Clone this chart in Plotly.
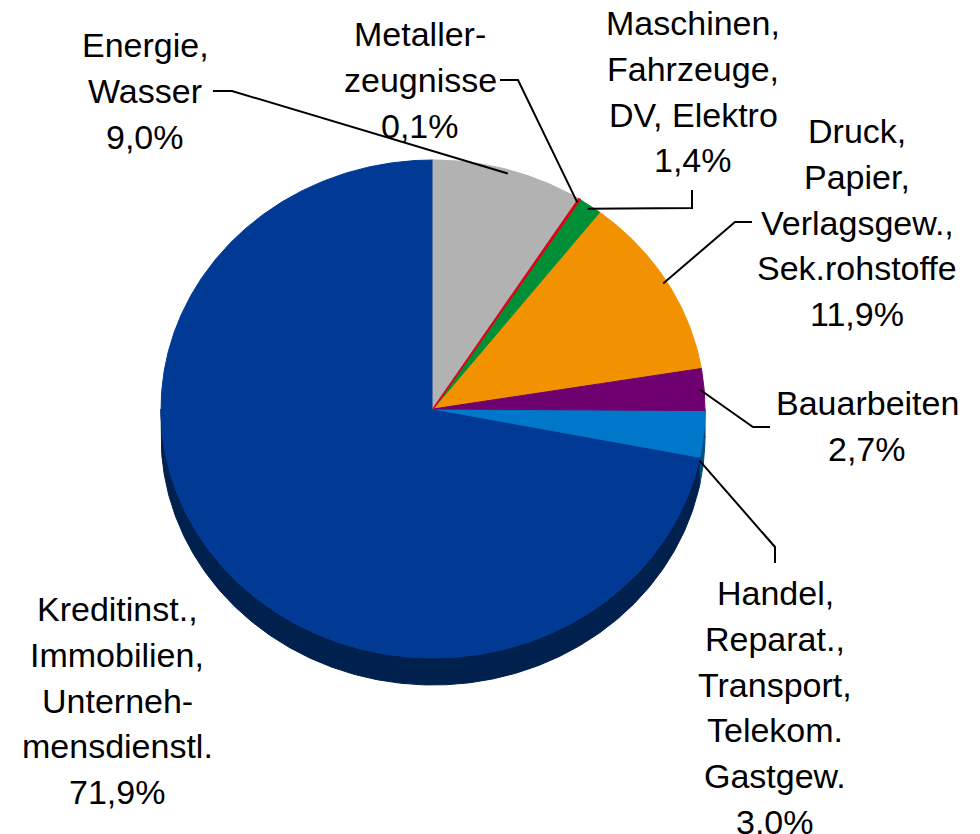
import numpy as np
import plotly.graph_objects as go

# Anteile nach Wirtschaftszweig (%), im Uhrzeigersinn ab 12 Uhr
sectors = [
    "Energie, Wasser",
    "Metallerzeugnisse",
    "Maschinen, Fahrzeuge, DV, Elektro",
    "Druck, Papier, Verlagsgew., Sek.rohstoffe",
    "Bauarbeiten",
    "Handel, Reparat., Transport, Telekom. Gastgew.",
    "Kreditinst., Immobilien, Unternehmensdienstl.",
]
shares = [9.0, 0.1, 1.4, 11.9, 2.7, 3.0, 71.9]
label_lines = [
    ["Energie,", "Wasser"],
    ["Metaller-", "zeugnisse"],
    ["Maschinen,", "Fahrzeuge,", "DV, Elektro"],
    ["Druck,", "Papier,", "Verlagsgew.,", "Sek.rohstoffe"],
    ["Bauarbeiten"],
    ["Handel,", "Reparat.,", "Transport,", "Telekom.", "Gastgew."],
    ["Kreditinst.,", "Immobilien,", "Unterneh-", "mensdienstl."],
]

colors = ["#b2b2b2", "#e2001a", "#008f36", "#f39200", "#6f006f", "#0077c8", "#003a94"]
side_colors = ["#6e6e6e", "#8a0010", "#005520", "#955900", "#420042", "#004c80", "#00204e"]

# pie geometry in pixels (tilted pie -> ellipse)
CX, CY, RX, RY, DEPTH = 433, 409, 272, 249, 27
PAGE_OFFSET = 8  # body margin of the html page

# label layout: centre x, first line y, leader bends (from pie outwards)
label_pos = [(145, 45), (420, 34), (693, 23), (857, 131), (867, 403), (775, 593), (117, 609)]
leader_bends = [
    [(232, 91), (213, 91)],
    [(518, 80), (500, 80)],
    [(692, 208), (692, 190)],
    [(735, 222), (752, 222)],
    [(753, 427), (770, 427)],
    [(775, 547), (775, 563)],
    None,
]
LINE_GAP = 45.8
FONT = dict(family="Liberation Sans, Arial, sans-serif", size=34, color="black")


def arc(a0, a1, dy=0.0):
    n = max(int(abs(a1 - a0) * 2) + 2, 2)
    t = np.radians(np.linspace(a0, a1, n))
    return CX + RX * np.sin(t), CY + dy - RY * np.cos(t)


edges = np.concatenate([[0], np.cumsum(shares)]) / sum(shares) * 360

fig = go.Figure()

# side walls of the front half
for i in range(len(shares)):
    a0, a1 = max(edges[i], 90), min(edges[i + 1], 270)
    if a1 <= a0:
        continue
    xt, yt = arc(a0, a1)
    xb, yb = arc(a1, a0, DEPTH)
    fig.add_trace(go.Scatter(
        x=np.concatenate([xt, xb]), y=np.concatenate([yt, yb]),
        fill="toself", fillcolor=side_colors[i], mode="lines",
        line=dict(color=side_colors[i], width=1),
        hoverinfo="skip", showlegend=False,
    ))

# top faces, smallest slice drawn last so it stays visible
order = sorted(range(len(shares)), key=lambda k: -shares[k])
for i in order:
    xa, ya = arc(edges[i], edges[i + 1])
    fig.add_trace(go.Scatter(
        x=np.concatenate([[CX], xa, [CX]]), y=np.concatenate([[CY], ya, [CY]]),
        fill="toself", fillcolor=colors[i], mode="lines",
        line=dict(color=colors[i], width=1.5 if shares[i] < 1 else 1),
        name=sectors[i], hoverinfo="name", showlegend=False,
    ))

# leader lines and labels
for i, v in enumerate(shares):
    mid = (edges[i] + edges[i + 1]) / 2
    if leader_bends[i]:
        t = np.radians(mid)
        dy = DEPTH if 90 < mid < 270 else 0
        ax = CX + 0.985 * RX * np.sin(t)
        ay = CY + dy - 0.985 * RY * np.cos(t)
        pts = [(ax, ay)] + leader_bends[i]
        fig.add_trace(go.Scatter(
            x=[p[0] for p in pts], y=[p[1] for p in pts], mode="lines",
            line=dict(color="black", width=2), hoverinfo="skip", showlegend=False,
        ))
    lines = label_lines[i] + [f"{v:.1f}".replace(".", ",") + "%"]
    x0, y0 = label_pos[i]
    for j, txt in enumerate(lines):
        fig.add_annotation(
            x=x0, y=y0 + j * LINE_GAP, text=txt, showarrow=False,
            xanchor="center", yanchor="middle", font=FONT,
        )

fig.update_layout(
    width=980, height=834,
    margin=dict(l=0, r=0, t=0, b=0),
    paper_bgcolor="white", plot_bgcolor="white",
    xaxis=dict(range=[PAGE_OFFSET, 980 + PAGE_OFFSET], visible=False, fixedrange=True),
    yaxis=dict(range=[834 + PAGE_OFFSET, PAGE_OFFSET], visible=False, fixedrange=True),
)

fig.write_html("out.html")
